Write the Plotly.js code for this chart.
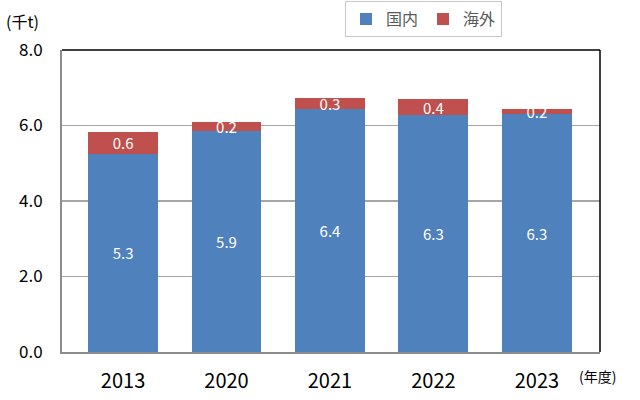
<!DOCTYPE html>
<html>
<head>
<meta charset="utf-8">
<script src="https://cdn.plot.ly/plotly-3.0.1.min.js"></script>
<style>
  html, body { margin: 0; padding: 0; background: #fff; }
  #plot { width: 640px; height: 400px; }
</style>
</head>
<body>
<div id="plot"></div>
<script>
// Data
let years = ['2013', '2020', '2021', '2022', '2023']
let domestic = [5.25, 5.85, 6.43, 6.28, 6.30]
let overseas = [0.59, 0.23, 0.29, 0.42, 0.15]
let domesticLabels = ['5.3', '5.9', '6.4', '6.3', '6.3']
let overseasLabels = ['0.6', '0.2', '0.3', '0.4', '0.2']

let labelFont = { family: 'Noto Sans CJK JP, Noto Sans, sans-serif', size: 15, color: '#ffffff' }

// Trace 1: domestic
let domesticTrace = {
    x: years,
    y: domestic,
    type: 'bar',
    name: '国内',
    text: domesticLabels,
    textposition: 'inside',
    insidetextanchor: 'middle',
    constraintext: 'none',
    textangle: 0,
    textfont: labelFont,
    marker: { color: '#4F81BD' },
    hoverinfo: 'skip'
}

// Trace 2: overseas
let overseasTrace = {
    x: years,
    y: overseas,
    type: 'bar',
    name: '海外',
    text: overseasLabels,
    textposition: 'inside',
    insidetextanchor: 'middle',
    constraintext: 'none',
    textangle: 0,
    textfont: labelFont,
    marker: { color: '#C0504D' },
    hoverinfo: 'skip'
}

let layout = {
    width: 640,
    height: 400,
    margin: { l: 62, r: 40, t: 50, b: 47.5, autoexpand: false },
    barmode: 'stack',
    bargap: 0.324,
    paper_bgcolor: '#ffffff',
    plot_bgcolor: '#ffffff',
    font: { family: 'Noto Sans CJK JP, Noto Sans, sans-serif', color: '#000000' },
    showlegend: true,
    legend: {
        orientation: 'h',
        traceorder: 'normal',
        x: 0.526,
        xanchor: 'left',
        y: 1.162,
        yanchor: 'top',
        itemwidth: 30,
        bordercolor: '#c8c8c8',
        borderwidth: 1,
        font: { size: 16, color: '#595959' }
    },
    xaxis: {
        type: 'category',
        range: [-0.59, 4.61],
        showgrid: false,
        showline: true,
        linecolor: '#8c8c8c',
        linewidth: 2,
        ticks: 'outside',
        ticklen: 10,
        tickcolor: 'rgba(0,0,0,0)',
        tickfont: { size: 20, color: '#000000' },
        fixedrange: true
    },
    yaxis: {
        range: [0, 8],
        dtick: 2,
        tickformat: '.1f',
        showgrid: true,
        gridcolor: '#a6a6a6',
        gridwidth: 1.5,
        zeroline: false,
        showline: true,
        linecolor: '#8c8c8c',
        linewidth: 2,
        ticks: 'outside',
        ticklen: 14,
        tickcolor: 'rgba(0,0,0,0)',
        tickfont: { size: 17, color: '#000000' },
        fixedrange: true
    },
    shapes: [
        { type: 'line', xref: 'paper', yref: 'paper', x0: 0, x1: 1, y0: 1, y1: 1, line: { color: '#000000', width: 1.5 } },
        { type: 'line', xref: 'paper', yref: 'paper', x0: 1, x1: 1, y0: 0, y1: 1, line: { color: '#000000', width: 1.5 } }
    ],
    annotations: [
        { text: '(千t)', xref: 'paper', yref: 'paper', x: -0.108, y: 1.095, xanchor: 'left', yanchor: 'middle', showarrow: false, font: { size: 16, color: '#000000' } },
        { text: '(年度)', xref: 'paper', yref: 'paper', x: 0.957, y: -0.078, xanchor: 'left', yanchor: 'middle', showarrow: false, font: { size: 14, color: '#000000' } }
    ]
}

let traceData = [domesticTrace, overseasTrace]

Plotly.newPlot('plot', traceData, layout, { displayModeBar: false, staticPlot: true })
</script>
</body>
</html>
